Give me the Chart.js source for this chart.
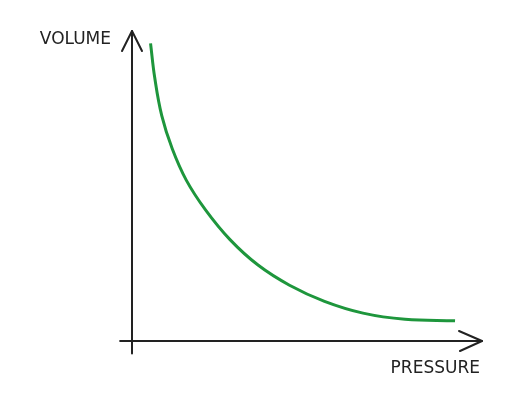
<!DOCTYPE html>
<html>
<head>
<meta charset="utf-8">
<script src="https://cdn.jsdelivr.net/npm/chart.js@4"></script>
<style>
    html, body { margin: 0; padding: 0; background: #fff; }
    canvas { display: block; }
</style>
</head>
<body>
<canvas id="boyleChart" width="514" height="396"></canvas>
<script>
// pressure (x) and volume (y), arbitrary units
const pressure = [5.3, 6.5, 8.5, 11.5, 15.5, 21, 28, 36, 45, 55, 66, 78, 92.3];
const volume = [96, 84.9, 72.7, 62, 51.9, 42.3, 32.7, 24.5, 18, 12.8, 9, 7, 6.5];
const axisLabels = ["PRESSURE", "VOLUME"];

const points = pressure.map((p, i) => ({ x: p, y: volume[i] }));

// hand-drawn style axes with arrow heads + labels
const sketchAxes = {
    id: "sketchAxes",
    beforeDatasetsDraw(chart) {
        const ctx = chart.ctx;
        const xs = chart.scales.x;
        const ys = chart.scales.y;
        const x0 = xs.getPixelForValue(0);
        const y0 = ys.getPixelForValue(0);
        const xEnd = xs.getPixelForValue(100);
        const yTop = ys.getPixelForValue(100);

        ctx.save();
        ctx.strokeStyle = "#222";
        ctx.lineWidth = 2;
        ctx.lineCap = "round";
        ctx.lineJoin = "round";

        // y axis
        ctx.beginPath();
        ctx.moveTo(x0, ys.getPixelForValue(-4));
        ctx.lineTo(x0, yTop);
        ctx.stroke();
        ctx.beginPath();
        ctx.moveTo(x0 - 10, yTop + 20);
        ctx.lineTo(x0, yTop);
        ctx.lineTo(x0 + 10, yTop + 20);
        ctx.stroke();

        // x axis
        ctx.beginPath();
        ctx.moveTo(xs.getPixelForValue(-3.4), y0);
        ctx.lineTo(xEnd, y0);
        ctx.stroke();
        ctx.beginPath();
        ctx.moveTo(xEnd - 23, y0 - 10);
        ctx.lineTo(xEnd, y0);
        ctx.lineTo(xEnd - 22, y0 + 10);
        ctx.stroke();

        ctx.fillStyle = "#222";
        ctx.font = "17px 'DejaVu Sans'";
        ctx.textBaseline = "middle";
        ctx.textAlign = "right";
        ctx.fillText(axisLabels[1], x0 - 21, yTop + 9);
        ctx.fillText(axisLabels[0], xEnd - 2, y0 + 28);
        ctx.restore();
    },
};

new Chart(document.getElementById("boyleChart"), {
    type: "scatter",
    data: {
        datasets: [
            {
                data: points,
                showLine: true,
                borderColor: "rgb(30, 150, 60)",
                borderWidth: 3,
                pointRadius: 0,
                tension: 0.4,
                clip: false,
            },
        ],
    },
    options: {
        responsive: false,
        animation: false,
        layout: {
            padding: { left: 132, right: 32, top: 31, bottom: 55 },
        },
        plugins: {
            legend: { display: false },
            tooltip: { enabled: false },
        },
        scales: {
            x: { type: "linear", min: 0, max: 100, display: false },
            y: { type: "linear", min: 0, max: 100, display: false },
        },
    },
    plugins: [sketchAxes],
});
</script>
</body>
</html>
